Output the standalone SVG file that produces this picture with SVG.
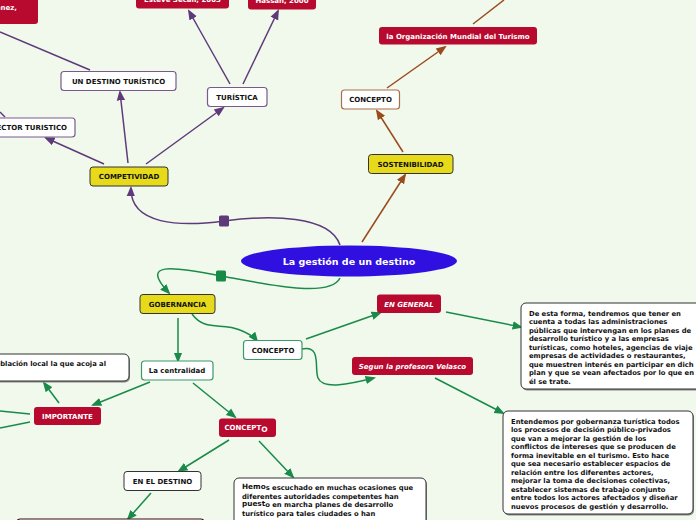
<svg xmlns="http://www.w3.org/2000/svg" width="696" height="520" viewBox="0 0 696 520">
<defs>
<marker id="ap" viewBox="0 0 10 10" refX="8" refY="5" markerWidth="7" markerHeight="7" orient="auto-start-reverse"><path d="M0,1 L10,5 L0,9 z" fill="#5e3a7a"/></marker>
<marker id="ab" viewBox="0 0 10 10" refX="8" refY="5" markerWidth="7" markerHeight="7" orient="auto-start-reverse"><path d="M0,1 L10,5 L0,9 z" fill="#9b4a1c"/></marker>
<marker id="ag" viewBox="0 0 10 10" refX="8" refY="5" markerWidth="7" markerHeight="7" orient="auto-start-reverse"><path d="M0,1 L10,5 L0,9 z" fill="#1a8a4a"/></marker>
</defs>
<style>
text{font-family:"DejaVu Sans",Verdana,sans-serif;font-weight:bold}
.l{font-size:7px;text-anchor:middle;fill:#111}
.w{font-size:7px;text-anchor:middle;fill:#fff}
.t{font-size:6.8px;fill:#111}
.yel{fill:#e6da1a;stroke:#333;stroke-width:1}
.red{fill:#b8092f}
.pw{fill:#fff;stroke:#7a5a8e;stroke-width:1.2}
.bw{fill:#fff;stroke:#a8704a;stroke-width:1.2}
.gw{fill:#fff;stroke:#3a9a6a;stroke-width:1.2}
.dw{fill:#fff;stroke:#333;stroke-width:1}
.sh{fill:#888}
.cp{stroke:#5e3a7a;stroke-width:1.5;fill:none}
.cb{stroke:#9b4a1c;stroke-width:1.5;fill:none}
.cg{stroke:#1a8a4a;stroke-width:1.5;fill:none}
</style>
<rect width="696" height="520" fill="#f0f9ec"/>

<g id="connectors">
<path class="cp" d="M340,245 C330,215 270,215 224,221 C180,227 130,225 131,188" marker-end="url(#ap)"/>
<rect x="219" y="215.5" width="10" height="11" rx="1.5" fill="#5e3a7a"/>
<line class="cp" x1="104" y1="164" x2="46" y2="138" marker-end="url(#ap)"/>
<line class="cp" x1="128" y1="163" x2="120" y2="92" marker-end="url(#ap)"/>
<line class="cp" x1="146" y1="164" x2="223" y2="108" marker-end="url(#ap)"/>
<line class="cp" x1="230" y1="84" x2="189" y2="11" marker-end="url(#ap)"/>
<line class="cp" x1="243" y1="84" x2="278" y2="11" marker-end="url(#ap)"/>
<line class="cp" x1="90" y1="70" x2="0" y2="32"/>
<line class="cp" x1="5" y1="117" x2="0" y2="112"/>

<line class="cb" x1="362" y1="242" x2="405" y2="175" marker-end="url(#ab)"/>
<line class="cb" x1="403" y1="152" x2="377" y2="111" marker-end="url(#ab)"/>
<line class="cb" x1="387" y1="88" x2="445" y2="47" marker-end="url(#ab)"/>
<line class="cb" x1="473" y1="24" x2="504" y2="0"/>

<path class="cg" d="M340,278 C330,298 270,285 221,276 C170,266 140,262 169,293" marker-end="url(#ag)"/>
<rect x="216" y="270.5" width="10" height="11" rx="1.5" fill="#178a48"/>
<line class="cg" x1="178" y1="318" x2="178" y2="361" marker-end="url(#ag)"/>
<path class="cg" d="M192,314 C205,332 222,322 240,330 C250,334 254,337 257,341" marker-end="url(#ag)"/>
<line class="cg" x1="306" y1="339" x2="380" y2="313" marker-end="url(#ag)"/>
<path class="cg" d="M302,349 C322,345 314,368 318,378 C323,390 350,384 374,378" marker-end="url(#ag)"/>
<line class="cg" x1="446" y1="312" x2="521" y2="327" marker-end="url(#ag)"/>
<line class="cg" x1="435" y1="378" x2="503" y2="413" marker-end="url(#ag)"/>
<line class="cg" x1="150" y1="382" x2="93" y2="405" marker-end="url(#ag)"/>
<line class="cg" x1="193" y1="383" x2="235" y2="417" marker-end="url(#ag)"/>
<line class="cg" x1="59" y1="403" x2="44" y2="383" marker-end="url(#ag)"/>
<line class="cg" x1="30" y1="414" x2="0" y2="411"/>
<line class="cg" x1="30" y1="422" x2="0" y2="428"/>
<line class="cg" x1="229" y1="440" x2="179" y2="471" marker-end="url(#ag)"/>
<line class="cg" x1="259" y1="441" x2="293" y2="477" marker-end="url(#ag)"/>
<line class="cg" x1="151" y1="493" x2="128" y2="519" marker-end="url(#ag)"/>
</g>

<g id="center">
<ellipse cx="349" cy="261" rx="108" ry="15.5" fill="#2f10e0"/>
<text x="349" y="265" style="font-size:9.5px;text-anchor:middle;fill:#fff">La gestión de un destino</text>
</g>

<g id="competitividad">
<rect class="yel" x="90" y="167" width="78" height="19" rx="3"/>
<text class="l" x="129" y="179">COMPETIVIDAD</text>
</g>
<g id="un-destino">
<rect class="pw" x="61" y="71.5" width="115" height="19" rx="3"/>
<text class="l" x="118.5" y="83.5">UN  DESTINO TURÍSTICO</text>
</g>
<g id="turistica">
<rect class="pw" x="207.5" y="87.5" width="59.5" height="19" rx="3"/>
<text class="l" x="237" y="99.5">TURÍSTICA</text>
</g>
<g id="sector">
<rect class="pw" x="-40" y="118" width="115" height="19" rx="3"/>
<text class="l" x="10" y="130" style="text-anchor:end" transform="translate(57,0)">SECTOR TURISTICO</text>
</g>
<g id="esteve">
<rect class="red" x="136" y="-15" width="93" height="23.5" rx="3"/>
<text class="w" x="182.5" y="2">Esteve Secall, 2005</text>
</g>
<g id="hassan">
<rect class="red" x="248" y="-15" width="68" height="24.5" rx="3"/>
<text class="w" x="282" y="3">Hassan, 2000</text>
</g>
<g id="jimenez">
<rect class="red" x="-20" y="-15" width="58" height="39" rx="3"/>
<text class="w" x="17" y="9.5" style="text-anchor:end">Jiménez,</text>
</g>

<g id="sostenibilidad">
<rect class="yel" x="368.5" y="154.5" width="84.5" height="19" rx="3"/>
<text class="l" x="410.5" y="166.5">SOSTENIBILIDAD</text>
</g>
<g id="concepto-s">
<rect class="bw" x="341.5" y="90" width="58" height="19" rx="3"/>
<text class="l" x="370.5" y="102">CONCEPTO</text>
</g>
<g id="omt">
<rect class="red" x="379" y="27" width="158" height="17.5" rx="3"/>
<text class="w" x="458" y="38.5">la Organización Mundial del Turismo</text>
</g>

<g id="gobernancia">
<rect class="yel" x="140" y="294.5" width="75" height="19" rx="3"/>
<text class="l" x="177.5" y="306.5">GOBERNANCIA</text>
</g>
<g id="centralidad">
<rect class="gw" x="141.5" y="361" width="71.5" height="19" rx="3"/>
<text class="l" x="177" y="373">La centralidad</text>
</g>
<g id="concepto-g">
<rect class="gw" x="243.5" y="340.5" width="58.5" height="19" rx="3"/>
<text class="l" x="273" y="352.5">CONCEPTO</text>
</g>
<g id="en-general">
<rect class="red" x="377" y="294.5" width="64" height="18.5" rx="3"/>
<text class="w" x="409" y="306.5" style="font-style:italic">EN GENERAL</text>
</g>
<g id="segun">
<rect class="red" x="352" y="357" width="121" height="18" rx="3"/>
<text class="w" x="412.5" y="369" style="font-style:italic">Segun la profesora Velasco</text>
</g>
<g id="de-esta-forma">
<rect class="sh" x="522" y="304.5" width="200" height="86" rx="5"/>
<rect class="dw" x="521" y="303" width="200" height="86" rx="5"/>
<text class="t" x="529" y="315.5">De esta forma, tendremos que tener en</text>
<text class="t" x="529" y="324">cuenta a todas las administraciones</text>
<text class="t" x="529" y="332.5">públicas que intervengan en los planes de</text>
<text class="t" x="529" y="341">desarrollo turístico y a las empresas</text>
<text class="t" x="529" y="349.5">turísticas, como hoteles, agencias de viaje</text>
<text class="t" x="529" y="358">empresas de actividades o restaurantes,</text>
<text class="t" x="529" y="366.5">que muestren interés en participar en dich</text>
<text class="t" x="529" y="375">plan y que se vean afectados por lo que en</text>
<text class="t" x="529" y="383.5">él se trate.</text>
</g>
<g id="entendemos">
<rect class="sh" x="504" y="412.5" width="190" height="103" rx="5"/>
<rect class="dw" x="503" y="411" width="190" height="103" rx="5"/>
<text class="t" x="511" y="423.5">Entendemos por gobernanza turística todos</text>
<text class="t" x="511" y="432">los procesos de decisión público-privados</text>
<text class="t" x="511" y="440.5">que van a mejorar la gestión de los</text>
<text class="t" x="511" y="449">conflictos de intereses que se producen de</text>
<text class="t" x="511" y="457.5">forma inevitable en el turismo. Esto hace</text>
<text class="t" x="511" y="466">que sea necesario establecer espacios de</text>
<text class="t" x="511" y="474.5">relación entre los diferentes actores,</text>
<text class="t" x="511" y="483">mejorar la toma de decisiones colectivas,</text>
<text class="t" x="511" y="491.5">establecer sistemas de trabajo conjunto</text>
<text class="t" x="511" y="500">entre todos los actores afectados y diseñar</text>
<text class="t" x="511" y="508.5">nuevos procesos de gestión y desarrollo.</text>
</g>

<g id="importante">
<rect class="red" x="34" y="407" width="67" height="18" rx="3"/>
<text class="w" x="67.5" y="418.5">IMPORTANTE</text>
</g>
<g id="poblacion">
<rect class="sh" x="-19" y="355.5" width="149" height="27" rx="5"/>
<rect class="dw" x="-20" y="354" width="149" height="27" rx="5"/>
<text class="t" x="106" y="366" style="text-anchor:end">población local la que acoja al</text>
</g>
<g id="concepto-r">
<rect class="red" x="219" y="418.5" width="57" height="18.5" rx="3"/>
<text class="w" x="246" y="430">CONCEPT<tspan style="font-size:7.5px" dy="1.5">O</tspan></text>
</g>
<g id="en-el-destino">
<rect class="dw" x="124" y="471.5" width="77" height="19" rx="3"/>
<text class="l" x="162.5" y="483.5">EN EL DESTINO</text>
</g>
<g id="bottom-box">
<rect x="17" y="519" width="187" height="10" rx="3" fill="#fff" stroke="#3a0a10" stroke-width="1.2"/>
</g>
<g id="hemos">
<rect class="sh" x="235" y="479.5" width="192" height="60" rx="5"/>
<rect class="dw" x="234" y="478" width="192" height="60" rx="5"/>
<text class="t" x="242" y="490"><tspan style="font-size:7.3px" dy="-1">Hemo</tspan><tspan dy="1">s escuchado en muchas ocasiones que</tspan></text>
<text class="t" x="242" y="498.5">diferentes autoridades competentes han</text>
<text class="t" x="242" y="507"><tspan style="font-size:7.3px" dy="-1">puest</tspan><tspan dy="1">o en marcha planes de desarrollo</tspan></text>
<text class="t" x="242" y="515.5">turístico para tales ciudades o han</text>
</g>
</svg>
